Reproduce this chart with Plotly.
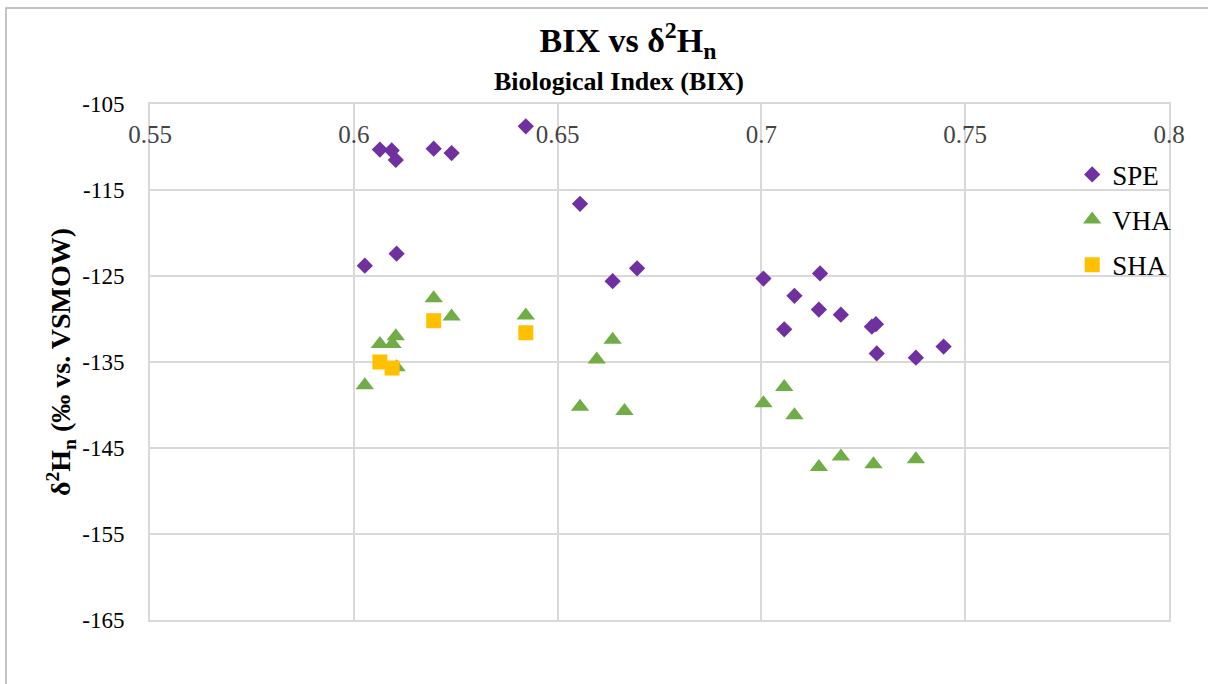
import plotly.graph_objects as go

# BIX (Biological Index) and δ2H values for each sample type
spe_bix = [0.6064, 0.6093, 0.6103, 0.6196, 0.6240, 0.6422, 0.6555, 0.6027, 0.6105,
           0.6635, 0.6695, 0.7005, 0.7144, 0.7081, 0.7141, 0.7195, 0.7056, 0.7271,
           0.7281, 0.7283, 0.7379, 0.7447]
spe_d2h = [-110.3, -110.4, -111.5, -110.2, -110.7, -107.6, -116.6, -123.8, -122.4,
           -125.6, -124.1, -125.3, -124.7, -127.3, -128.9, -129.5, -131.2, -130.9,
           -130.6, -134.0, -134.5, -133.2]

vha_bix = [0.6196, 0.6240, 0.6064, 0.6103, 0.6095, 0.6105, 0.6027, 0.6422, 0.6555,
           0.6635, 0.6596, 0.6664, 0.7056, 0.7005, 0.7081, 0.7141, 0.7195, 0.7275,
           0.7379]
vha_d2h = [-127.6, -129.7, -132.9, -132.0, -132.9, -135.6, -137.7, -129.6, -140.2,
           -132.4, -134.7, -140.7, -137.9, -139.8, -141.2, -147.2, -146.0, -146.9,
           -146.3]

sha_bix = [0.6196, 0.6064, 0.6094, 0.6422]
sha_d2h = [-130.2, -135.0, -135.7, -131.6]

# axis ticks
x_ticks = [0.55, 0.6, 0.65, 0.7, 0.75, 0.8]
x_tick_text = ["0.55", "0.6", "0.65", "0.7", "0.75", "0.8"]
y_ticks = [-105, -115, -125, -135, -145, -155, -165]
y_tick_text = ["-105", "-115", "-125", "-135", "-145", "-155", "-165"]

FONT = "Times New Roman, Liberation Serif, serif"
GRID = "#D9D9D9"

fig = go.Figure()
fig.add_trace(go.Scatter(x=spe_bix, y=spe_d2h, mode="markers", name="SPE",
                         legendgroup="SPE",
                         marker=dict(symbol="diamond", size=12.5, color="#7030A0",
                                     line=dict(width=0))))
fig.add_trace(go.Scatter(x=vha_bix, y=vha_d2h, mode="markers", name="VHA",
                         legendgroup="VHA",
                         marker=dict(symbol="triangle-up", size=16, color="#70AD47",
                                     line=dict(width=0))))
fig.add_trace(go.Scatter(x=sha_bix, y=sha_d2h, mode="markers", name="SHA",
                         legendgroup="SHA",
                         marker=dict(symbol="square", size=15, color="#FFC000",
                                     line=dict(width=0))))

fig.update_layout(
    width=1208, height=684,
    margin=dict(l=150, r=39, t=104, b=64),
    paper_bgcolor="white", plot_bgcolor="white",
    font=dict(family=FONT, color="black"),
    title=dict(text="<b>BIX vs δ<sup>2</sup>H<sub>n</sub></b>",
               x=628 / 1208, xanchor="center", xref="container",
               y=1 - 40 / 684, yanchor="middle", yref="container",
               font=dict(size=34, family=FONT)),
    showlegend=True,
    legend=dict(x=0.905, y=0.91, xanchor="left", yanchor="top",
                bgcolor="rgba(0,0,0,0)", font=dict(size=27, family=FONT),
                tracegroupgap=7, itemwidth=30),
)

fig.update_xaxes(
    range=[0.55, 0.8], tickvals=x_ticks, ticktext=x_tick_text,
    side="top", ticklabelposition="inside", ticklabeloverflow="allow",
    ticklabelstandoff=23,
    showgrid=True, gridcolor=GRID, gridwidth=2,
    showline=True, mirror=True, linecolor=GRID, linewidth=2,
    zeroline=False, ticks="",
    tickfont=dict(size=25, family=FONT),
)
fig.update_yaxes(
    range=[-165, -105], tickvals=y_ticks, ticktext=y_tick_text,
    ticklabelstandoff=19,
    showgrid=True, gridcolor=GRID, gridwidth=2,
    showline=True, mirror=True, linecolor=GRID, linewidth=2,
    zeroline=False, ticks="",
    tickfont=dict(size=23, family=FONT),
    title=dict(text="<b>δ<sup>2</sup>H<sub>n</sub> (‰ vs. VSMOW)</b>",
               font=dict(size=28, family=FONT), standoff=3),
)

# top axis title
fig.add_annotation(text="<b>Biological Index (BIX)</b>",
                   xref="paper", yref="paper",
                   x=(619 - 150) / 1019, y=(620 - 82) / 516,
                   xanchor="center", yanchor="middle", showarrow=False,
                   font=dict(size=26, family=FONT))

# chart area outline
fig.add_shape(type="rect", xref="paper", yref="paper",
              x0=(6 - 150) / 1019, x1=(1230 - 150) / 1019,
              y0=(620 - 700) / 516, y1=(620 - 8) / 516,
              line=dict(color="#B0B0B0", width=1.5), fillcolor="rgba(0,0,0,0)",
              layer="below")

fig.write_html("out.html")
